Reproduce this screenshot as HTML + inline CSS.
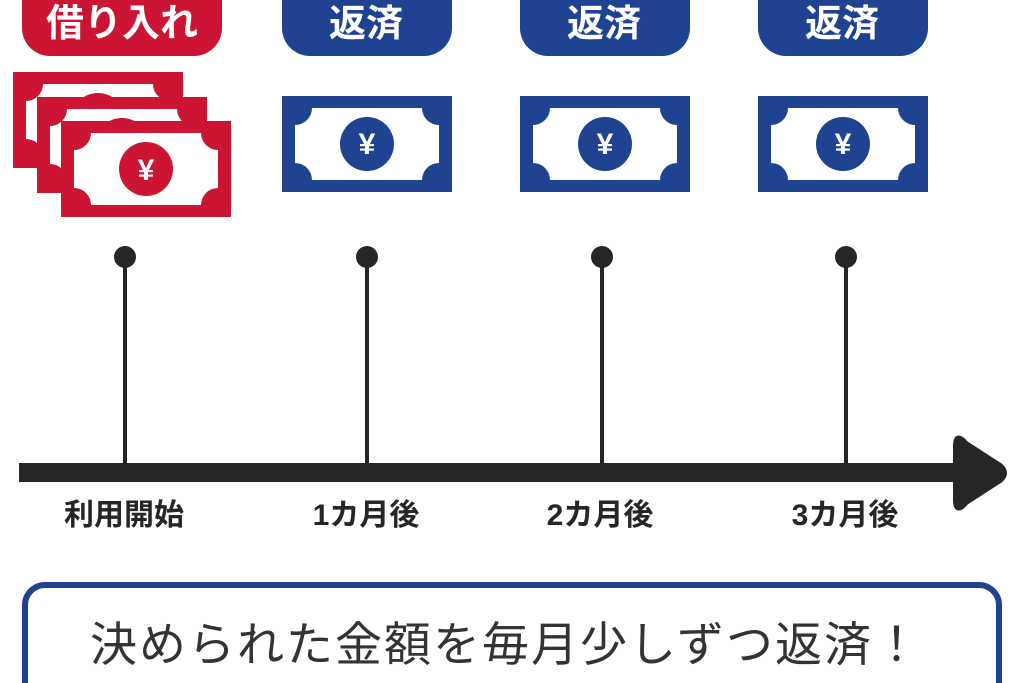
<!DOCTYPE html>
<html><head><meta charset="utf-8"><style>
html,body{margin:0;padding:0;background:#fff;}
body{width:1024px;height:683px;overflow:hidden;position:relative;font-family:"Liberation Sans","Noto Sans CJK JP",sans-serif;}
svg{position:absolute;left:0;top:0;}
</style></head><body>
<svg width="1024" height="683" viewBox="0 0 1024 683" xmlns="http://www.w3.org/2000/svg">
<defs>
<g id="billR">
<rect x="0" y="0" width="170" height="96" fill="#cc1533"/>
<path d="M30 12 L140 12 A17 17 0 0 0 157 29 L157 67 A17 17 0 0 0 140 84 L30 84 A17 17 0 0 0 13 67 L13 29 A17 17 0 0 0 30 12 Z" fill="#fff"/>
<circle cx="85" cy="48" r="27" fill="#cc1533"/>
</g>
<g id="billB">
<rect x="0" y="0" width="170" height="96" fill="#1f4391"/>
<path d="M30 12 L140 12 A17 17 0 0 0 157 29 L157 67 A17 17 0 0 0 140 84 L30 84 A17 17 0 0 0 13 67 L13 29 A17 17 0 0 0 30 12 Z" fill="#fff"/>
<circle cx="85" cy="48" r="27" fill="#1f4391"/>
<text x="85" y="58" font-size="30" font-weight="bold" fill="#fff" text-anchor="middle" font-family="Liberation Sans, sans-serif">¥</text>
</g>
</defs>
<!-- pills -->
<rect x="22" y="-30" width="200" height="86" rx="28" fill="#cc1533"/>
<text x="122" y="36" font-size="38" font-weight="bold" fill="#fff" text-anchor="middle" font-family="Liberation Sans, Noto Sans CJK JP, sans-serif">借り入れ</text>
<rect x="282" y="-30" width="170" height="86" rx="28" fill="#1f4391"/>
<text x="366" y="36" font-size="37" font-weight="bold" fill="#fff" text-anchor="middle" font-family="Liberation Sans, Noto Sans CJK JP, sans-serif">返済</text>
<rect x="520" y="-30" width="170" height="86" rx="28" fill="#1f4391"/>
<text x="604" y="36" font-size="37" font-weight="bold" fill="#fff" text-anchor="middle" font-family="Liberation Sans, Noto Sans CJK JP, sans-serif">返済</text>
<rect x="758" y="-30" width="170" height="86" rx="28" fill="#1f4391"/>
<text x="842" y="36" font-size="37" font-weight="bold" fill="#fff" text-anchor="middle" font-family="Liberation Sans, Noto Sans CJK JP, sans-serif">返済</text>
<!-- bills -->
<use href="#billR" x="13" y="72"/>
<use href="#billR" x="37" y="97"/>
<use href="#billR" x="61" y="121"/>
<text x="146" y="180" font-size="30" font-weight="bold" fill="#fff" text-anchor="middle" font-family="Liberation Sans, sans-serif">¥</text>
<use href="#billB" x="282" y="96"/>
<use href="#billB" x="520" y="96"/>
<use href="#billB" x="758" y="96"/>
<!-- ticks -->
<g fill="#262626" stroke="#262626">
<circle cx="125" cy="257" r="11" stroke="none"/><line x1="125" y1="257" x2="125" y2="470" stroke-width="4"/>
<circle cx="367" cy="257" r="11" stroke="none"/><line x1="367" y1="257" x2="367" y2="470" stroke-width="4"/>
<circle cx="602" cy="257" r="11" stroke="none"/><line x1="602" y1="257" x2="602" y2="470" stroke-width="4"/>
<circle cx="846" cy="257" r="11" stroke="none"/><line x1="846" y1="257" x2="846" y2="470" stroke-width="4"/>
</g>
<rect x="19" y="463" width="950" height="19" fill="#262626"/>
<path d="M956 446 Q956 432 966 444 L1000 466 Q1008 473 1000 480 L966 502 Q956 514 956 500 Z" fill="#262626" stroke="#262626" stroke-width="6" stroke-linejoin="round"/>
<!-- labels -->
<g font-size="30" font-weight="bold" fill="#262626" text-anchor="middle" font-family="Liberation Sans, Noto Sans CJK JP, sans-serif">
<text x="124" y="525">利用開始</text>
<text x="366" y="525">1カ月後</text>
<text x="600" y="525">2カ月後</text>
<text x="845" y="525">3カ月後</text>
</g>
<!-- bottom box -->
<rect x="25" y="585" width="974" height="130" rx="20" fill="#fff" stroke="#1f4391" stroke-width="6"/>
<text x="506" y="661" font-size="47" letter-spacing="2" fill="#333" text-anchor="middle" font-family="Liberation Sans, Noto Sans CJK JP, sans-serif">決められた金額を毎月少しずつ返済！</text>
</svg>
</body></html>
